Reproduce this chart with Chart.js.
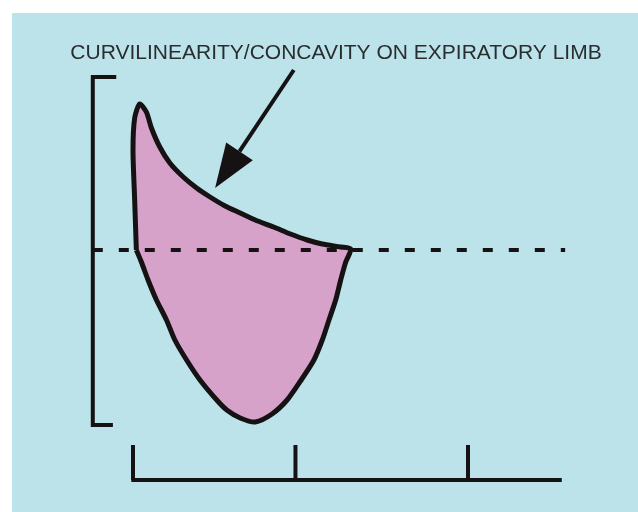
<!DOCTYPE html>
<html>
<head>
<meta charset="utf-8">
<script src="https://cdn.jsdelivr.net/npm/chart.js@4.4.1/dist/chart.umd.min.js"></script>
<style>
  html, body { margin: 0; padding: 0; background: #fff; }
  #wrap { width: 638px; height: 512px; }
</style>
</head>
<body>
<div id="wrap"><canvas id="loopChart" width="638" height="512"></canvas></div>
<script>
// flow-volume loop (volume on x, flow on y)
const loopVolume = [0.02, 0.01, 0, 0.01, 0.04, 0.08, 0.11, 0.16, 0.22, 0.30, 0.38, 0.46, 0.55, 0.64, 0.73, 0.84, 0.94, 1.04, 1.13, 1.24, 1.30,
  1.27, 1.24, 1.21, 1.17, 1.13, 1.08, 1.00, 0.92, 0.83, 0.73, 0.64, 0.56, 0.50, 0.40, 0.32, 0.25, 0.20, 0.14, 0.09, 0.05, 0.02];
const loopFlow = [0, 1.0, 2.0, 2.64, 2.92, 2.76, 2.44, 2.06, 1.74, 1.46, 1.24, 1.06, 0.88, 0.74, 0.6, 0.46, 0.32, 0.2, 0.12, 0.06, 0.02,
  -0.24, -0.6, -1.0, -1.4, -1.8, -2.2, -2.62, -3.0, -3.28, -3.44, -3.36, -3.2, -3.0, -2.6, -2.2, -1.8, -1.4, -1.0, -0.6, -0.24, 0];

// zero-flow line and axis brackets
const baselineX = [-0.24, 2.58];
const xAxisRange = [-0.01, 2.56];
const xAxisLevel = -4.6;
const xTicks = [0, 0.97, 2];
const xTickTop = -3.9;
const yAxisRange = [-3.5, 3.46];
const yAxisX = -0.24;

const label = 'CURVILINEARITY/CONCAVITY ON EXPIRATORY LIMB';
const arrowFrom = { x: 0.96, y: 3.6 };
const arrowTo = { x: 0.49, y: 1.24 };

const ink = '#161214';

const loopPts = loopVolume.map((v, i) => ({ x: v, y: loopFlow[i] }));

const datasets = [
  {
    data: baselineX.map(x => ({ x: x, y: 0 })),
    borderColor: ink, borderWidth: 4, borderDash: [10, 16], order: 0
  },
  {
    data: loopPts,
    borderColor: ink, borderWidth: 5, backgroundColor: '#d6a2ca',
    fill: 'shape', tension: 0.25, borderJoinStyle: 'round', order: 1
  },
  {
    data: [{ x: -0.1, y: yAxisRange[1] }, { x: yAxisX, y: yAxisRange[1] }, { x: yAxisX, y: yAxisRange[0] }, { x: -0.12, y: yAxisRange[0] }],
    borderColor: ink, borderWidth: 4, order: 2
  },
  {
    data: xAxisRange.map(x => ({ x: x, y: xAxisLevel })),
    borderColor: ink, borderWidth: 4, order: 2
  }
];
xTicks.forEach(t => {
  datasets.push({
    data: [{ x: t, y: xAxisLevel }, { x: t, y: xTickTop }],
    borderColor: ink, borderWidth: 4, order: 2
  });
});

const decor = {
  id: 'decor',
  beforeDraw(chart) {
    const c = chart.ctx;
    c.save();
    c.fillStyle = '#ffffff';
    c.fillRect(0, 0, chart.width, chart.height);
    c.fillStyle = '#bce3ea';
    c.fillRect(12, 13, chart.width - 12, chart.height - 13);
    c.restore();
  },
  afterDraw(chart) {
    const c = chart.ctx;
    const xs = chart.scales.x, ys = chart.scales.y;
    // arrow
    const x0 = xs.getPixelForValue(arrowFrom.x), y0 = ys.getPixelForValue(arrowFrom.y);
    const x1 = xs.getPixelForValue(arrowTo.x), y1 = ys.getPixelForValue(arrowTo.y);
    const ang = Math.atan2(y1 - y0, x1 - x0);
    const headLen = 44, headW = 16;
    const bx = x1 - Math.cos(ang) * headLen, by = y1 - Math.sin(ang) * headLen;
    c.save();
    c.strokeStyle = ink;
    c.fillStyle = ink;
    c.lineWidth = 4;
    c.beginPath();
    c.moveTo(x0, y0);
    c.lineTo(bx, by);
    c.stroke();
    c.beginPath();
    c.moveTo(x1, y1);
    c.lineTo(bx + Math.sin(ang) * headW, by - Math.cos(ang) * headW);
    c.lineTo(bx - Math.sin(ang) * headW, by + Math.cos(ang) * headW);
    c.closePath();
    c.fill();
    // label
    c.font = '21px "Liberation Sans", Arial, sans-serif';
    c.fillStyle = '#2a2d30';
    c.textAlign = 'center';
    c.textBaseline = 'middle';
    c.fillText(label, 336, 53);
    c.restore();
  }
};

new Chart(document.getElementById('loopChart'), {
  type: 'scatter',
  data: { datasets: datasets },
  options: {
    responsive: false,
    animation: false,
    showLine: true,
    layout: { padding: 0 },
    elements: { point: { radius: 0, hoverRadius: 0 }, line: { borderCapStyle: 'butt' } },
    plugins: { legend: { display: false }, tooltip: { enabled: false } },
    scales: {
      x: { type: 'linear', min: -0.794, max: 3.015, display: false },
      y: { type: 'linear', min: -5.24, max: 5, display: false }
    }
  },
  plugins: [decor]
});
</script>
</body>
</html>
